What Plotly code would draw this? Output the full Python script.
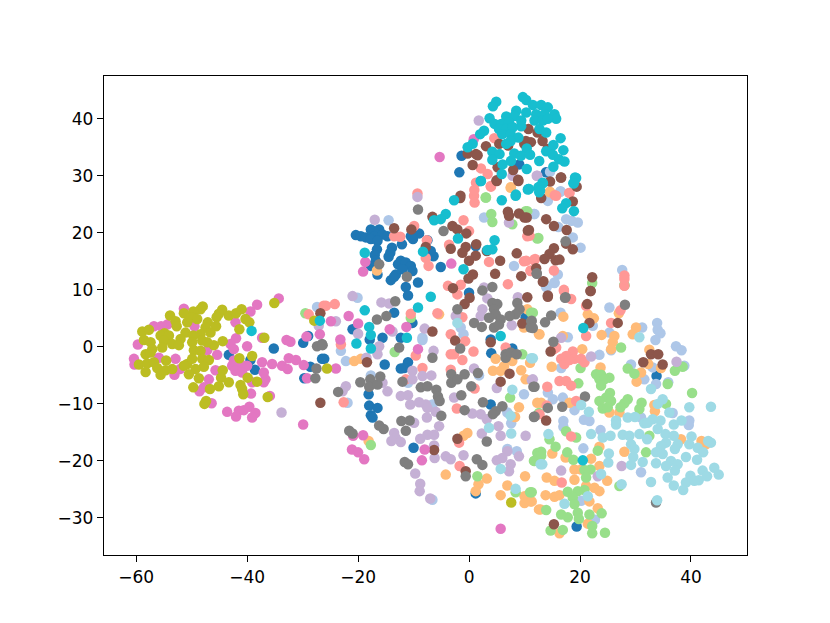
import plotly.graph_objects as go

# t-SNE coordinates, one list per class (x, y)
blue = [(-43.3,-1.4),(-39.4,-2.3),(-38.6,-4.0),(-35.2,-0.3),(-29.9,0.7),(-29.0,1.9),(-28.6,-3.5),(-26.5,-2.1),(-29.7,-5.5),
    (-20.4,19.6),(-19.5,19.4),(-18.6,19.2),(-17.7,20.6),(-16.2,20.6),(-17.1,19.4),(-15.6,19.7),(-17.7,18.9),(-16.5,18.6),(-14.7,19.4),
    (-16.6,17.1),(-17.0,16.1),(-16.8,15.1),(-17.7,14.2),(-16.5,12.7),(-13.9,17.4),(-14.2,16.5),(-14.5,15.8),(-12.1,18.0),(-9.0,19.9),
    (-10.5,19.4),(-10.1,18.9),(-12.3,15.1),(-12.8,14.5),(-11.4,14.8),(-10.5,14.2),(-10.2,13.3),(-12.0,13.6),(-13.2,12.7),(-14.1,11.7),
    (-13.5,12.3),(-9.2,11.3),(-11.4,10.5),(-11.0,9.0),(-5.1,14.0),(-6.4,15.9),(-7.5,18.7),(-6.9,16.8),(0,9.5),(1.2,17.7),(-13.5,6.0),
    (-10.2,4.2),(-21,3.1),(-15.6,1.6),(-12.3,1.6),(3.9,1.3),(10.2,5.2),(-26.1,-2.1),(-15.2,-3.1),(-11,-2.7),(-11.7,-3.7),(-12.3,-3.8),
    (-18.1,-8.3),(-18,-10.3),(-16.5,-10.7),(-17.7,-12),(-17.4,-12.4),(-10,-17.7),(4,-1.1),(7.8,-0.3),(3.9,-10.1),(1.2,-25.7),(-17.9,1.3),
    (33.8,-5.1),(19.4,-31.5),(-1.35,33.5),(-1.75,30.6),(13.85,30.6),(9.05,32),(14.2,30.6)]
light_blue = [(-27.4,7.0),(-14.5,22.2),(-20.1,8.6),(2.7,22.7),(8.1,14.2),(11.7,23.3),(-1.5,3.4),(-1,2.2),(-8.4,1.6),
    (-23.1,-0.7),(-22.2,-2.5),(-8.4,1.2),(-17.7,-5),(-11,-6.3),(-21.9,-9.8),(-6.6,-10.1),(1.8,-5),(9.9,-8.3),(6.9,-11.5),(7.6,-13.4),
    (6.9,-17.9),(8.6,-18.3),(-6.6,-26.8),(15.4,11.3),(13.9,10.5),(25.3,6.9),(16.5,6),(22.3,3.7),(33.9,4.2),(34,3),(34.5,2.4),(33.6,1.2),
    (31.2,3.4),(25.3,2.5),(17.8,1.7),(23.5,-1.4),(25.6,-0.6),(37.3,0.1),(38.3,-0.6),(29.2,-3.1),(31.6,-5.7),(33.7,-6.5),(35.9,-6.2),
    (38.8,-3.3),(33.1,-3.6),(15.1,-9.2),(14.2,-8),(16.9,-8.9),(19,-11.1),(20.7,-12.8),(21.7,-13),(17,-13),(17,-14),(23.7,-14.6),
    (36.7,-11.6),(39.7,-12.9),(39.6,-13.7),(31,-12.4),(20.6,-17.8),(31,-22),(16.6,-3.7),(22.7,-30.3),(20.2,-27),(14.6,30.7),(16.45,27.2),
    (11.8,23.3),(14.2,25.6),(16.5,27.3),(17.5,22.4),(18.5,22.1),(19.6,21.8),(16.1,21),(18.7,19.2),(20.1,17.4),(27.6,13.5),(16,12.7),
    (15.4,11.2),(14,10.5)]
light_orange = [(7.5,27.9),(-16.6,13.4),(12.6,2.2),(10.5,6.6),(9.9,3.4),(-5.4,5.7),(-20.7,-2.5),(-19.5,-2.1),(-18.1,-16.5),(-0.3,-15.1),
    (-1,-15.6),(-4.2,-22.4),(3.2,-23.1),(1.7,-24.1),(1.2,-25.3),(6.9,-24.3),(10.1,-22.7),(5.7,-26),(10,-26.2),(11.1,-27.1),(10,-27.4),
    (12.6,-28.5),(4.8,-2.1),(4.3,-4.2),(5.7,-4.2),(6.3,-3.4),(7.8,-2.5),(9.4,-4.1),(10.2,-5.7),(11,-2.8),(9,-10.6),(8.3,-12.3),(12.3,-9.8),
    (17,5.3),(21.4,5.7),(22.5,5),(27,5.9),(30.1,3.4),(29.5,2.2),(23.9,2.1),(26.2,1.9),(25.9,0.8),(25.6,-0.4),(20.4,-0.4),(14.9,-3.5),
    (23.7,-3.6),(12.7,2.2),(16.9,1.9),(32.5,-0.5),(32.3,-3),(31,-4.5),(30.2,-6.1),(34.6,-3.7),(13,-9.8),(18.1,-9.8),(25.3,-11.5),(27.1,-11.5),
    (33.4,-10.2),(33.5,-11.3),(28,-18.4),(23.5,-17.5),(15,-18.7),(17.4,-19.4),(22,-19.6),(23.5,-20.9),(19,-21.5),(20.2,-21.5),(14,-22.9),
    (15.4,-23.5),(19,-23.3),(24.9,-23.5),(21.1,-24.4),(22.6,-24.7),(23.5,-25.3),(13.8,-26),(15.4,-26.3),(16.3,-26),(11.3,-27.1),(12.9,-28.5),
    (21.7,-27.1),(23.2,-28.3),(21.4,-31),(16.3,-32.7),(38.2,-16.2),(41.9,-16.5),(42.7,-17.1),(7.55,28),(14.55,27.2),(14.6,27.1)]
light_green = [(-29.5,5.9),(3,26.2),(4,23.3),(4.2,21.9),(7.8,21.5),(10.2,23.8),(12.3,19),(-10.5,5.1),(11.2,6),(-13.4,-0.9),(-17.7,-17.2),
    (7.4,-8.9),(9.6,-1.3),(1.5,-22.7),(8.4,-25.5),(11,-25.5),(12.3,-18.6),(11.7,-20),(12.6,-11.6),(28,10.8),(20.1,-3.7),(11.5,6),(22.9,-4.8),
    (23.8,-4.9),(25.3,-5.4),(23.5,-5.7),(24.4,-5.7),(23.8,-6.8),(27.4,-0.1),(28.6,-3.8),(29.8,-4.7),(37.1,-4.2),(38.5,-3.5),(35.8,-6.5),
    (40.2,-8.1),(19.7,-6.4),(25.4,-8.1),(24.7,-8.9),(23.5,-9.5),(25.6,-9.5),(24.1,-10.8),(25,-10.6),(28.6,-9.2),(28,-9.9),(27.3,-10.6),
    (31.1,-9.8),(30.7,-10.9),(35.5,-10),(32.5,-15.6),(31.9,-18.5),(15.6,-17.5),(14.5,-16.2),(13,-18.4),(13,-19.1),(11.8,-20),(17.7,-18.5),
    (18.8,-19.8),(17.5,-14.8),(19.3,-15.9),(23.2,-18.2),(21.9,-21.5),(20.8,-21.6),(21.1,-22.9),(17.8,-25.4),(19.6,-25.3),(20.8,-25.1),
    (18.7,-26.4),(19,-27.6),(13.9,-28.6),(16.6,-29.4),(17.8,-29.9),(19.6,-29.1),(19.8,-30.2),(21.7,-29.4),(23.9,-29.2),(22.2,-31.4),
    (22.2,-32.7),(24.5,-32.6),(16.9,-32.1),(14.7,-32.2),(27.1,-24.4),(11.3,-25.5),(3.05,26.2),(12.5,19.1),(28,10.8),(22.2,11.2),(10.5,23.8)]
light_red = [(-28.9,5.7),(-26.2,7.2),(-9.3,26.9),(0.9,26.5),(1,25.3),(3.9,28.2),(-1,22.2),(-9.9,21.2),(-13.5,19.4),(-12.4,19.3),(-7.6,18.7),
    (-3.6,17.9),(-7.8,15.6),(-7.3,14.2),(3.6,14.9),(9.9,15),(11.7,15.2),(11.1,13.3),(7,11),(-3.8,10.7),(-1.5,10.9),(-2.1,9.2),(-25.8,7.2),
    (-24.2,7.5),(-10.5,5.8),(-5.7,5.9),(-1.2,5.2),(-3.3,2.2),(10.5,19.4),(0,20.3),(-23.1,0.4),(-22.6,-9.7),(-9.6,-1.5),(-8.4,-3.7),(-11.4,-5.7),
    (-3.3,-1.3),(-2.7,-1.3),(-1.2,-2.3),(-0.7,1),(0.8,-0.8),(-3.3,-4),(-2.2,-10.8),(1,-7.3),(-1.8,-16.8),(-1.7,-20.9),(6.6,-0.1),
    (17.1,9.8),(18.4,8.4),(21.1,7.2),(28,10.7),(27.3,6.4),(25.6,4.2),(21.1,1.9),(18.7,-0.8),(17.5,-1.6),(16.6,-2.1),(19,-2.1),(20.2,-2.1),
    (20.8,-2.7),(17.2,-3),(16.3,-6),(17.5,-6),(18.4,-6.8),(14.1,-7),(19.3,-9.5),(14,-10.3),(12.7,-11.8),(18.4,-15.7),(16.7,-23.8),(18.1,-2.3),
    (15.7,-0.1),(15.3,-0.4),(4.55,36.6),(2.15,31.3),(3.35,30.3),(1.25,28.8),(0.95,27.5),(3.95,28.1),(15.45,26.6),(18.05,27),(15.7,26.5),
    (18.1,27),(10.9,19.5),(10.3,15.1),(11.9,15.4),(11.1,13.4),(15.3,13.4),(28,12.5),(28,11.9),(17.1,10)]
light_purple = [(-33.8,-11.5),(-27.1,3.7),(-9.3,26.3),(-17,22.3),(-21,8.9),(-15.8,7.8),(-14.4,7.6),(2.7,10.4),(3.3,8.5),(8.8,8.7),(2.4,6.6),
    (2.1,5.4),(-2.4,5.4),(7.2,21.8),(7.7,3.8),(-8,3.2),(-24,4.5),(-20,2.3),(-13.8,2.7),(-22.2,-6.9),(-22.8,-7.8),(-16.2,0.1),(-16.5,-1.3),
    (-18.5,-1.9),(-14.7,-7.8),(-15.6,-6.3),(-10.2,-4.2),(-10.2,-5.7),(-8.4,-5.1),(-6.8,-5),(-12.3,-8.6),(-11,-8.5),(-10.6,-10.1),(-9,-9.7),
    (-7.8,-10.1),(-7.5,-10.7),(-6,-11.4),(-7.6,-12.4),(-9.9,-13.3),(-5.4,-13.9),(-6.3,-15.4),(-7.5,-15.4),(-8.8,-16.1),(-13.5,-15.1),(-13.2,-16),
    (-14,-16.5),(-12.3,-16.7),(-6.3,-17.3),(-6.2,-19.5),(-4.2,-19.2),(-3.3,-19.7),(-1,-19),(-9.7,-22.2),(-8.8,-24),(-8.9,-25.3),(-7,-26.6),
    (-2.7,-8.9),(0.9,-3.8),(5,-7.2),(0.6,-11.7),(2.1,-11.8),(3.2,-12.7),(5.3,-13.9),(5.7,-15.6),(2.3,-15.2),(10.2,-15.6),(-6.4,-0.7),(6.9,-18.3),
    (5,-19.9),(6,-19.5),(7.5,-20.6),(7.2,-21.8),(9,-19.2),(11.3,-5.8),(16.6,1.6),(22,-1.7),(37.4,-2.6),(11.5,-5.7),(16.6,-21.7),(27.5,-20.9),
    (23.2,-22.7),(1.75,39.7),(12.2,30),(7.85,30),(12.3,30)]
brown = [(-26.8,5.9),(-26.8,-9.8),(-13.5,20.8),(-10.4,20.6),(-7.8,17.5),(-6.6,22.8),(-1.6,26.1),(5.0,29.1),(8.9,29.1),(7.0,23.7),(7.2,23.0),
    (9.0,23.4),(10.0,22.7),(10.6,20.4),(-3,21.2),(-2.1,20.6),(-0.5,19.9),(-3.3,17.2),(-0.6,17.5),(-1.2,16.5),(1.3,18.0),(1.2,16.0),(0,15.1),
    (3.2,16.8),(5.6,15.1),(8.6,16.4),(4.7,12.8),(9.4,12.4),(0.7,12.7),(-0.1,12.0),(-2.9,10.3),(0.1,8.6),(-0.8,7.5),(10.5,8.7),(-6.6,2.7),(9.6,4.1),
    (-18.4,-2.7),(-2.5,1.1),(3.9,0.8),(7.3,-4.7),(5.7,-6.1),(-2.1,-16.1),(-6.3,-18.1),(-0.6,-21.8),(13.3,11.4),(14.2,8.8),(21.9,9.8),(21.3,7.5),
    (21.7,4.2),(26.8,4.2),(14.7,-0.8),(32.8,-1.3),(34.1,-1.3),(31.4,-2.7),(34.9,-3.1),(13.9,-12.9),(15.3,-31.1),(10.7,38.2),(12.35,37.6),
    (13.25,36.1),(10.25,36.1),(11.15,35.9),(9.95,35.6),(3.05,35.2),(5.45,35.6),(7.05,35.3),(-0.25,33.9),(1.25,33.8),(1.55,33.6),(14.15,34.7),
    (0.65,31.9),(7.95,31),(5.15,31.5),(8.85,29.3),(4.95,29.2),(14.6,29),(16.55,29.7),(19.4,28.1),(-1.55,26.5),(16.6,29.7),(13,26.1),(18.7,25.5),
    (13.9,22.4),(15.3,21.2),(17.6,20.5),(10.8,20.5),(10.4,22.7),(17.5,18.1),(18.7,17.1),(15.3,17.3),(14.5,16.3),(13.6,15.4),(15.6,15.2),(16.3,15.3),
    (12.1,13.8),(13.4,11.5),(22.2,12.2),(21.9,9.8),(14.2,9)]
pink = [(-34.3,8.5),(-51.4,6.7),(-38.2,7.4),(-39.4,6.2),(-56.8,3.6),(-55.5,3.6),(-54.4,3.9),(-49.5,3.6),(-42.1,4.3),(-59.7,0.4),(-42.0,1.5),
    (-43.0,0.5),(-42.4,-0.4),(-40.0,0.1),(-37.3,1.6),(-32.9,1.2),(-32.2,0.9),(-29.3,1.8),(-26.9,2.2),(-45.4,-1.4),(-47.2,-0.6),(-55.9,-1.9),
    (-52.9,-2.1),(-60.4,-2.1),(-60.3,-3.1),(-42.4,-2.4),(-42.7,-3.3),(-41.2,-3.0),(-40.0,-3.3),(-42.1,-4.2),(-40.9,-4.5),(-45.7,-4.1),(-52.1,-3.9),
    (-53.1,-4.9),(-37.3,-2.7),(-35.5,-3.0),(-33.7,-3.3),(-32.7,-3.9),(-32.5,-2.0),(-31.2,-2.3),(-29.8,-3.2),(-37.0,-4.5),(-36.7,-5.7),(-37.0,-6.2),
    (-39.1,-6.2),(-46.9,-5.7),(-47.8,-7.1),(-48.6,-7.8),(-39.3,-8.2),(-35.9,-8.6),(-46.4,-9.9),(-43.6,-11.4),(-42.0,-12.2),(-41.5,-11.2),(-40.6,-11.1),
    (-39.6,-10.5),(-38.5,-11.6),(-39.1,-12.4),(-29.9,-13.6),(-29.2,-5.5),(-18.7,14.9),(-19.1,13.2),(-3.2,14.6),(-21.7,5.4),(-20,4.1),(-24.9,4.5),
    (-14.3,3.1),(-11.3,3.5),(-23.2,1.3),(-9.2,-0.4),(-24,-3.8),(-20.9,-15.6),(-19.1,-15.5),(-21.1,-18),(-20,-18.5),(-18.9,-19.7),(-8,-18),(-8.5,-19.9),
    (5.7,-31.9),(-5.3,33.3),(0.85,36.4)]
gray = [(-27.4,0.1),(-26.5,0.5),(-27.5,-3.8),(-27.7,-5.5),(-9.2,24.1),(-16.2,14.5),(-11.2,12.3),(-4.6,20.3),(-13.3,8.0),(-14.9,5.4),(-16.6,4.8),
    (-2.1,6.6),(4.2,10.5),(2.4,9.9),(4.2,7.7),(5.1,7.5),(4.5,6.6),(4.8,5.7),(3.6,5.1),(5.7,4.8),(4.5,3.4),(5.4,3.9),(0.9,4.2),(2.3,3.5),(8.7,7.7),
    (9.1,6.6),(8.4,5.7),(7.3,5.4),(11.2,4.5),(11.1,3.4),(12.2,12.8),(-19.6,-6.2),(-17.8,-5.7),(-18,-7),(-16.5,-6.6),(-16,-5.2),(-23.6,-7.9),(-12.6,-0.1),
    (-6.6,-1.9),(-12,-6.1),(-8.7,-7.1),(-7.5,-6.9),(-5.9,-7.5),(-5.6,-8.7),(-5.3,-9.5),(-5,-12.1),(-12.2,-13),(-10.7,-12.9),(-11.4,-14.7),(-16.2,-13.8),
    (-15.4,-14.4),(-21.6,-14.7),(-21,-15.2),(-11.6,-20.2),(-11,-20.6),(-3.2,-4.8),(-3.2,-6.3),(-2.1,-5.7),(-0.8,-4.8),(1.6,-4.6),(0.4,-6.9),(-1.4,-8.5),
    (-0.8,-11.1),(2.5,-9.7),(6,-10.4),(4.8,-11.3),(4.3,-11.8),(3.2,-16.6),(1.4,-19.7),(2.4,-20.7),(-0.6,-22.7),(11.6,-7),(11.7,-12.3),(-1.6,-0.3),(6.6,-1.3),
    (6.6,-1.9),(7.5,-1),(8.6,-1.3),(-26.4,0.3),(28.1,7.4),(17.3,8.6),(14.8,5.5),(13.7,4.3),(11.3,4.6),(11.5,3.3),(15.2,0.9),(11.8,-7),(14.2,-10.7),
    (16.8,-10.5),(20.9,-8.7),(11.8,-12.2),(33.7,-27.3),(17.4,18.5),(12.2,12.9),(17.4,8.7)]
olive = [(-48.0,7.1),(-48.4,6.6),(-53.9,5.5),(-51.4,5.9),(-49.7,6.2),(-44.5,6.5),(-45.1,5.8),(-45.5,5.2),(-43.3,5.5),(-42.0,5.9),(-41.0,6.6),(-40.3,4.9),
    (-39.6,4.3),(-41.4,3.1),(-35.1,7.7),(-52.9,4.5),(-52.7,3.6),(-50.8,4.3),(-50.1,5.2),(-49.0,4.9),(-47.1,4.3),(-47.5,3.4),(-45.6,3.6),(-58.9,2.7),
    (-57.7,3.0),(-54.9,2.4),(-55.6,2.0),(-54.1,2.0),(-51.1,2.5),(-46.6,2.5),(-48.4,2.2),(-49.7,2.0),(-52.0,1.4),(-44.4,1.0),(-36.9,1.6),(-58.6,1.2),
    (-57.4,0.8),(-55.0,1.1),(-53.5,0.5),(-52.3,0.3),(-55.3,-0.1),(-49.9,0.8),(-48.1,1.1),(-46.0,0.3),(-47.2,0.8),(-57.1,-0.4),(-58.3,-1.3),(-57.4,-1.0),
    (-49.6,-0.6),(-48.4,-0.7),(-39.1,-1.6),(-41.4,-2.0),(-59.5,-3.1),(-58.0,-2.9),(-56.8,-2.7),(-54.6,-2.4),(-56.2,-3.7),(-58.3,-4.4),(-55.6,-4.9),
    (-54.7,-4.1),(-53.5,-3.9),(-50.8,-3.0),(-49.9,-2.1),(-48.1,-2.1),(-46.9,-2.3),(-47.8,-3.5),(-49.3,-3.9),(-51.4,-3.3),(-50.5,-4.8),(-48.7,-5.5),
    (-44.4,-4.1),(-44.7,-5.4),(-43.3,-6.2),(-45.1,-6.9),(-46.7,-7.4),(-49.7,-7.1),(-39.9,-5.4),(-38.2,-6.1),(-41.2,-6.7),(-40.9,-7.4),(-40.7,-8.3),
    (-36.3,-8.8),(-47.4,-9.5),(-47.7,-10.0),(-27.9,4.6),(-25.6,-3.8),(7.6,-27.3)]
cyan = [(-39.2,2.8),(-26.9,4.6),(-2.7,25.7),(-4.2,23.3),(-6.3,22.2),(-5.1,22.4),(2.1,29.1),(5.9,25.7),(8.4,26.5),(10.6,27.6),(-18.8,16.5),(-8.3,16.7),
    (-2,19),(4.6,18.7),(3.3,17),(4.2,17.1),(-1,13.6),(-6.9,8.8),(-9.2,6.9),(-18.8,6.4),(-18,3.5),(-17.7,2.1),(-11.2,1.6),(5.7,1.9),(-20.3,0.6),(-17.7,-0.3),
    (20.6,3.3),(20.5,-19.9),(4.9,43),(4.3,42.2),(9.7,43.8),(10.3,43.3),(11.5,42.4),(13,42.4),(14.2,42),(8.5,41.4),(10.3,41.1),(15.4,40.8),(12.1,40.8),
    (13.6,40.8),(15.7,40),(6.7,40.4),(8.2,40.5),(3.7,40.1),(11.8,39.7),(13.3,39.7),(14.2,40),(4.6,39.1),(5.8,39.1),(7.2,39.4),(9.4,39.7),(9.4,38.7),
    (5.4,38.2),(6.7,38.2),(7.9,38.5),(12.7,38.2),(13.9,37.6),(2.7,37.9),(2,37.3),(6,37.3),(7.5,37.3),(8.9,36.7),(7.5,36.1),(6.7,35.6),(16.5,36.6),
    (15.2,35.4),(17,34.5),(0.65,35.6),(-0.25,35),(10.4,34.8),(13.9,34.3),(15.1,33.7),(16.2,32.9),(17.2,32.5),(4.2,34.2),(5.5,33.8),(4.2,32.8),(6.05,32),
    (7.55,32.6),(8.15,33.9),(9.35,33.5),(11,33.7),(12.65,32.6),(10.4,31.2),(15.2,31.6),(5.9,30.3),(2.15,29.1),(19.1,29.7),(18.8,28.7),(13.25,28.8),
    (12.5,28),(10.7,27.7),(12.65,27.1),(8.45,26.7),(19.3,29.6),(18.9,28.7),(13.3,28.7),(12.7,28.1),(12.8,27.4),(10.8,27.7),(17.5,25.2),(16.8,24.3),(18.9,23.8)]
light_cyan = [(-2.1,4.2),(7.8,-7.5),(11.2,-2),(7.5,-12.1),(3.6,-14.2),(7.6,-15.2),(5.7,-21.4),(8.4,-24.9),(12.9,-20.6),(43.6,-10.5),(39.7,-10.6),(34.9,-9.2),
    (34,-10),(32.8,-7.4),(30.7,1.7),(20.2,-10.2),(21.6,-11.4),(36.1,-11.5),(28.6,-12.4),(29.9,-12.3),(26.5,-12.9),(26.5,-13.6),(31.6,-13.4),(33.1,-12.7),
    (34.5,-12.9),(32.2,-13.3),(36.9,-13.6),(38.3,-12.9),(34,-14.4),(14.3,-15.3),(22,-15.3),(24.1,-15.9),(25.5,-15.6),(27.7,-15.4),(28.9,-15.6),(30.7,-15.3),
    (32.1,-16.2),(35.4,-15.3),(36.9,-15.6),(40.1,-15.7),(43.1,-16.5),(43.6,-16.8),(29.2,-17.1),(29.8,-17.9),(35.5,-16.8),(34.6,-17.4),(37.6,-17.1),(37.1,-17.9),
    (39.7,-17.1),(41.2,-17.7),(42.2,-18.5),(33.7,-18.5),(34.9,-18.8),(39.1,-19.3),(41.1,-19.8),(25.2,-18.7),(25.1,-20.3),(29.6,-19.3),(29.2,-20.7),(31.3,-20.2),
    (33.7,-20.4),(36.4,-20),(35.5,-20.9),(37.6,-20.6),(37.1,-21.7),(44.2,-21.2),(45,-22.4),(42.1,-21.7),(42.9,-22.7),(39.9,-22.6),(41.4,-23.4),(35.8,-22.9),
    (32.8,-23.7),(36.9,-24.3),(39.1,-23.8),(38.6,-25.1),(40.6,-23.5),(27.5,-24.1),(23.8,-22.3),(21.4,-26.2),(17.2,-27.5),(13.2,-20.6),(33.9,-26.9),(11.5,-2)]

classes = [blue, light_blue, light_orange, light_green, light_red, light_purple, brown, pink, gray, olive, cyan, light_cyan]
colors = ["#1f77b4", "#aec7e8", "#ffbb78", "#98df8a", "#ff9896", "#c5b0d5", "#8c564b", "#e377c2", "#7f7f7f", "#bcbd22", "#17becf", "#9edae5"]
x_ticks = [-60, -40, -20, 0, 20, 40]
y_ticks = [-30, -20, -10, 0, 10, 20, 30, 40]

fig = go.Figure()
for pts, col in zip(classes, colors):
    fig.add_trace(go.Scatter(x=[p[0] for p in pts], y=[p[1] for p in pts], mode="markers",
                             marker=dict(color=col, size=10.5, opacity=1, line_width=0), showlegend=False))

axis_style = dict(showgrid=False, zeroline=False, showline=True, mirror=True, linecolor="black", linewidth=1.4,
                  ticks="outside", ticklen=6, tickwidth=1.4, tickcolor="black")
fig.update_xaxes(range=[-65.8, 50.1], tickvals=x_ticks, ticktext=["\u2212" + str(-t) if t < 0 else str(t) for t in x_ticks], **axis_style)
fig.update_yaxes(range=[-36.5, 47.5], tickvals=y_ticks, ticktext=["\u2212" + str(-t) if t < 0 else str(t) for t in y_ticks], **axis_style)
fig.update_layout(width=830, height=623, margin=dict(l=104, r=83, t=76, b=68), plot_bgcolor="white", paper_bgcolor="white",
                  font=dict(family="DejaVu Sans", size=17, color="black"))

fig.write_html("out.html", config={"displayModeBar": False}, post_script="document.body.style.margin='0';")
